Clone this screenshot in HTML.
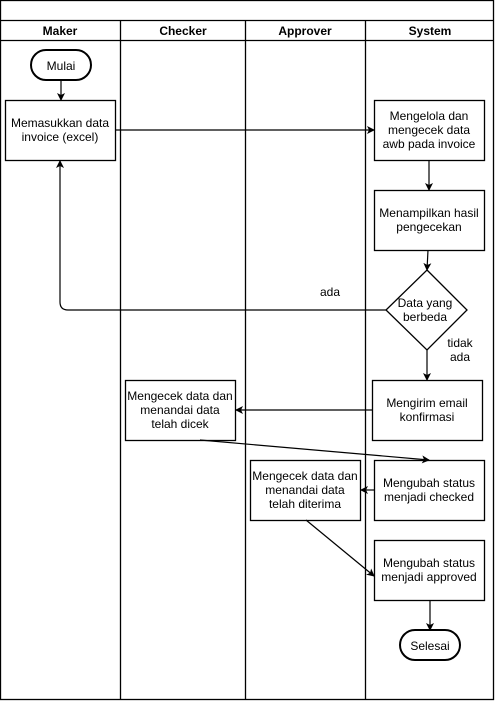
<!DOCTYPE html>
<html><head><meta charset="utf-8"><style>
html,body{margin:0;padding:0;background:#fff}
svg{display:block}
text{font-family:"Liberation Sans",Arial,sans-serif;font-size:12px;fill:#000}
.h{font-weight:bold}
</style></head><body>
<svg width="495" height="701" viewBox="0 0 495 701" xmlns="http://www.w3.org/2000/svg">
<defs><marker id="a" markerWidth="8" markerHeight="8" refX="7" refY="4" orient="auto" markerUnits="userSpaceOnUse"><path d="M0,0 L8,4 L0,8 L2,4 Z" fill="#000"/></marker></defs>
<g fill="none" stroke="#000" stroke-width="1.3">
<rect x="0.5" y="0.5" width="493" height="699"/>
<line x1="0" y1="20.5" x2="494" y2="20.5"/>
<line x1="0" y1="40.5" x2="494" y2="40.5"/>
<line x1="120.5" y1="20" x2="120.5" y2="700"/>
<line x1="245.5" y1="20" x2="245.5" y2="700"/>
<line x1="365.5" y1="20" x2="365.5" y2="700"/>
<rect x="31" y="50" width="60" height="30" rx="15" stroke-width="2"/>
<rect x="5.5" y="100.5" width="110" height="60"/>
<rect x="374.5" y="100.5" width="110" height="60"/>
<rect x="374.5" y="190.5" width="110" height="60"/>
<path d="M427,270 L467,310 L427,350 L386,310 Z"/>
<rect x="372.5" y="380.5" width="110" height="60"/>
<rect x="125.5" y="380.5" width="110" height="60"/>
<rect x="374.5" y="460.5" width="110" height="60"/>
<rect x="250.5" y="460.5" width="110" height="60"/>
<rect x="374.5" y="540.5" width="110" height="60"/>
<rect x="400" y="630" width="60" height="30" rx="15" stroke-width="2"/>
</g>
<g fill="none" stroke="#000" stroke-width="1.2" marker-end="url(#a)">
<line x1="61" y1="80" x2="61" y2="100"/>
<line x1="115" y1="130" x2="374" y2="130"/>
<line x1="429" y1="160" x2="429" y2="190"/>
<line x1="428" y1="250" x2="427" y2="270"/>
<path d="M386,310 L68,310 Q60,310 60,302 L60,161"/>
<line x1="427" y1="350" x2="427" y2="380"/>
<line x1="372" y1="410" x2="236" y2="410"/>
<line x1="200" y1="440" x2="429" y2="460"/>
<line x1="374" y1="490" x2="361" y2="490"/>
<line x1="306" y1="520" x2="374" y2="576"/>
<line x1="430" y1="600" x2="430" y2="630"/>
</g>
<g text-anchor="middle">
<text class="h" x="60" y="35">Maker</text>
<text class="h" x="183" y="35">Checker</text>
<text class="h" x="305" y="35">Approver</text>
<text class="h" x="430" y="35">System</text>
<text x="61" y="70">Mulai</text>
<text x="60" y="127">Memasukkan data</text><text x="60" y="141">invoice (excel)</text>
<text x="429" y="120">Mengelola dan</text><text x="429" y="134">mengecek data</text><text x="429" y="148">awb pada invoice</text>
<text x="429" y="217">Menampilkan hasil</text><text x="429" y="231">pengecekan</text>
<text x="425" y="307">Data yang</text><text x="425" y="321">berbeda</text>
<text x="330" y="296">ada</text>
<text x="460" y="347">tidak</text><text x="460" y="361">ada</text>
<text x="427" y="407">Mengirim email</text><text x="427" y="421">konfirmasi</text>
<text x="180" y="400">Mengecek data dan</text><text x="180" y="414">menandai data</text><text x="180" y="428">telah dicek</text>
<text x="429" y="487">Mengubah status</text><text x="429" y="501">menjadi checked</text>
<text x="305" y="480">Mengecek data dan</text><text x="305" y="494">menandai data</text><text x="305" y="508">telah diterima</text>
<text x="429" y="567">Mengubah status</text><text x="429" y="581">menjadi approved</text>
<text x="430" y="650">Selesai</text>
</g>
</svg>
</body></html>
